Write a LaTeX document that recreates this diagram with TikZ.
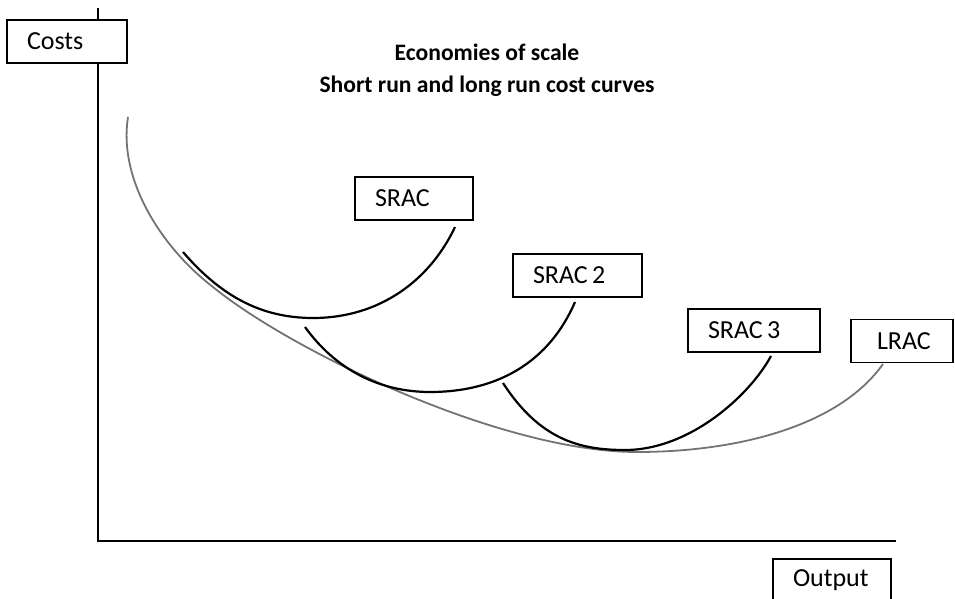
\documentclass[tikz,border=0pt]{standalone}
\usepackage{fontspec}
\setmainfont{Carlito}
\usepackage{xcolor}

\definecolor{lracgray}{gray}{0.45}

\tikzset{
  label box/.style={draw, fill=white, line width=0.8pt, align=left, inner xsep=10pt,
                    minimum height=21.5pt, font=\fontsize{13}{15}\selectfont},
  short curve/.style={line width=1.1pt, black},
  long curve/.style={line width=0.9pt, lracgray}
}

\begin{document}
\begin{tikzpicture}[x=0.5pt,y=-0.5pt]
            \useasboundingbox (0,0) rectangle (955,599);

            % axes
            \coordinate (top) at (98,8);
            \coordinate (o) at (98,541);
            \coordinate (right) at (896,541);
            \draw[line width=1pt] (top) -- (o) -- (right);

            % labels
            \node (costs) at (67,41.5) [label box,text width=40pt] {Costs};
            \node (output) at (832,580.5) [label box,text width=39pt] {Output};
            \node (title) at (487,70) [align=center,font=\fontsize{11.8}{15.8}\selectfont\bfseries] {Economies of scale\\Short run and long run cost curves};
            \node (srac) at (414,198.5) [label box,text width=39pt] {SRAC};
            \node (sractwo) at (577.5,275.5) [label box,text width=44.5pt] {SRAC\,2};
            \node (sracthree) at (754,330.5) [label box,text width=46pt] {SRAC\,3};
            \node (lrac) at (902,341) [label box,text width=31pt] {\hspace{3pt}LRAC};

            % long run curve
            \draw[long curve] (128,117) .. controls (118,180) and (162,248) .. (213,287)
                              .. controls (290,350) and (500,452) .. (637,452)
                              .. controls (740,452) and (840,425) .. (883,364);

            % short run curves
            \draw[short curve] (183,252) .. controls (220,295) and (260,318) .. (313,318)
                               .. controls (380,318) and (430,280) .. (455,227);
            \draw[short curve] (305,327) .. controls (336,370) and (380,392) .. (430,392)
                               .. controls (500,392) and (550,360) .. (575,302);
            \draw[short curve] (503,383) .. controls (540,440) and (580,450) .. (625,450)
                               .. controls (690,450) and (750,395) .. (771,356);

\end{tikzpicture}
\end{document}
